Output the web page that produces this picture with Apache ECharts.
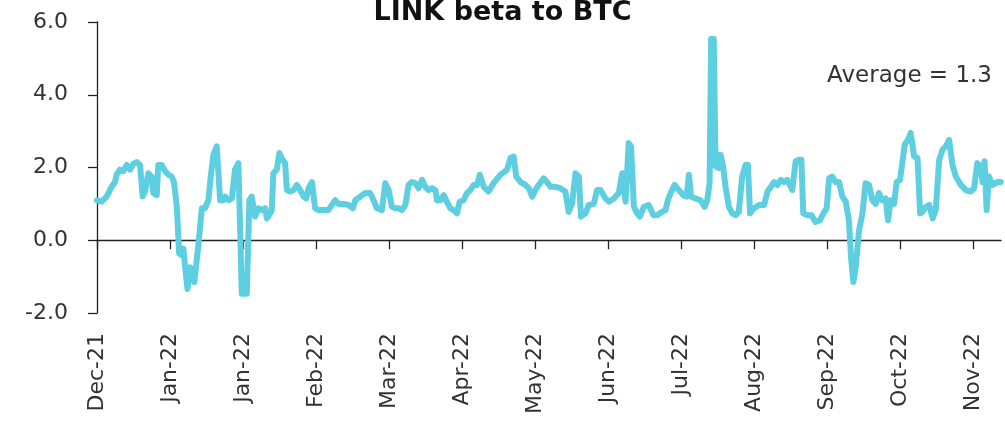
<!DOCTYPE html>
<html>
<head>
<meta charset="utf-8">
<script src="https://cdn.jsdelivr.net/npm/echarts@6/dist/echarts.min.js"></script>
<style>
html,body{margin:0;padding:0;background:#fff;}
#chart{width:1005px;height:431px;}
</style>
</head>
<body>
<div id="chart"></div>
<script>
// Tick labels every 28 days (day index 0 = early Dec 2021)
const tickLabels = ['Dec-21','Jan-22','Jan-22','Feb-22','Mar-22','Apr-22','May-22','Jun-22','Jul-22','Aug-22','Sep-22','Oct-22','Nov-22'];
const tickStep = 28;

// Day index of each reading
const days = [
0,1.8,3.7,5.6,6.9,7.5,8.8,10.1,11.4,12.7,13.9,15.2,16.5,17.5,18.4,19.7,21.0,21.6,22.9,23.5,
24.8,26.1,27.4,28.6,29.5,30.6,31.5,32.5,33.1,33.8,34.7,35.7,36.3,37.3,38.0,38.9,40.2,41.4,42.7,43.6,
44.6,45.9,46.5,47.2,48.5,49.1,50.4,51.7,52.9,54.2,54.9,55.5,56.1,57.4,58.1,58.4,59.3,60.0,60.6,61.9,
63.2,64.5,65.1,66.4,67.0,67.6,68.9,69.9,70.8,72.1,72.8,74.0,75.3,76.6,77.9,79.2,80.2,81.1,82.4,83.6,
84.9,86.8,88.7,90.0,91.3,92.6,94.5,96.4,98.1,99.0,100.9,102.8,104.7,106.0,107.3,109.2,110.5,111.8,113.0,114.3,
115.6,116.9,118.2,119.4,120.7,122.0,123.3,124.6,125.8,127.1,128.4,129.7,130.3,131.6,132.9,134.1,135.4,136.7,138.0,139.0,
140.5,141.8,143.1,144.4,145.7,146.7,148.2,150.1,152.0,154.6,
155.2,157.2,158.5,159.7,160.7,162.3,164.2,165.5,166.8,168.0,169.3,171.2,172.5,173.8,175.7,177.6,179.5,180.8,182.1,183.4,
184.7,185.5,187.2,188.5,190.4,191.7,193.0,194.9,196.2,198.1,200.0,201.3,202.6,203.8,204.7,205.8,207.0,208.1,209.6,211.5,
213.2,214.7,216.6,217.9,218.8,220.1,221.4,223.0,224.7,226.0,226.9,227.7,229.4,231.3,232.9,233.9,234.8,235.4,236.4,237.1,
238.4,239.0,240.0,240.9,242.2,243.5,244.8,246.0,247.3,248.6,249.5,250.3,251.8,253.8,255.7,257.0,258.3,259.5,260.8,262.1,
263.3,264.6,266.5,267.8,269.1,270.0,270.7,272.2,273.8,275.4,277.1,278.4,279.7,280.6,281.8,283.1,284.4,285.7,287.0,288.2,
289.1,289.9,290.8,292.1,293.4,294.6,295.9,297.2,298.5,299.7,301.0,302.3,303.2,304.2,305.5,306.5,307.8,309.6,310.9,311.9,
313.2,314.5,315.5,316.4,317.7,319.0,320.3,321.5,322.8,324.1,325.4,326.6,327.9,329.2,331.1,333.0,334.9,336.2,337.4,338.7,
339.4,340.2,341.0,341.9,343.2,345.1,346.4
];

// LINK beta to BTC readings
const beta = [
1.1,1.06,1.2,1.47,1.6,1.8,1.94,1.9,2.07,1.94,2.1,2.15,2.07,1.2,1.34,1.84,1.75,1.3,1.24,2.07,
2.07,1.9,1.8,1.75,1.6,0.92,-0.37,-0.41,-0.23,-0.74,-1.34,-0.74,-0.83,-1.15,-1.1,-0.1,0.88,0.88,1.1,1.75,
2.35,2.58,2.58,1.1,1.1,1.2,1.1,1.15,1.94,2.12,2.12,-1.47,-1.52,-1.47,-1.47,1.1,1.2,1.2,0.65,0.88,
0.83,0.88,0.6,0.74,0.83,1.84,1.94,2.4,2.26,2.12,1.38,1.34,1.38,1.52,1.38,1.2,1.15,1.43,1.6,0.88,
0.83,0.83,0.83,0.97,1.1,1.0,1.0,0.97,0.88,1.1,1.2,1.3,1.3,1.1,0.88,0.83,1.57,1.38,0.92,0.88,
0.88,0.83,0.97,1.52,1.6,1.57,1.43,1.66,1.47,1.38,1.43,1.38,1.1,1.1,1.24,1.06,0.88,0.83,0.74,1.06,
1.1,1.3,1.38,1.52,1.52,1.8,1.47,1.34,1.57,1.8,
1.75,1.94,2.26,2.3,1.75,1.6,1.52,1.43,1.2,1.38,1.52,1.7,1.6,1.47,1.47,1.43,1.34,0.78,1.0,1.84,
1.75,0.65,0.74,0.97,1.0,1.38,1.38,1.15,1.06,1.15,1.3,1.84,1.06,2.67,2.58,0.92,0.74,0.65,0.92,0.97,
0.69,0.69,0.78,0.83,1.1,1.34,1.52,1.38,1.24,1.2,1.8,1.2,1.15,1.1,0.92,1.1,1.57,5.53,5.53,2.03,
1.98,2.35,2.03,1.47,0.92,0.74,0.69,0.78,1.75,2.07,2.07,0.74,0.88,0.97,0.97,1.34,1.47,1.6,1.52,1.66,
1.6,1.66,1.38,2.17,2.21,2.21,0.74,0.69,0.69,0.5,0.55,0.74,0.88,1.7,1.75,1.6,1.6,1.2,1.06,0.55,
-0.55,-1.15,-0.74,0.28,0.74,1.57,1.52,1.1,1.0,1.3,1.1,1.15,0.55,1.1,1.0,1.6,1.66,2.63,2.76,2.95,
2.3,2.26,0.74,0.78,0.92,0.97,0.6,0.83,2.21,2.49,2.58,2.76,2.07,1.75,1.52,1.38,1.34,1.43,2.12,2.03,
1.6,2.17,0.83,1.75,1.52,1.6,1.6
];

const titleText = 'LINK beta to BTC';
const averageText = 'Average = 1.3';

const tickValues = tickLabels.map((_, i) => i * tickStep);
const seriesData = days.map((d, i) => [d, beta[i]]);

const FONT = '"DejaVu Sans", sans-serif';
const chart = echarts.init(document.getElementById('chart'), null, {renderer: 'canvas'});
chart.setOption({
  animation: false,
  backgroundColor: '#ffffff',
  title: {
    text: titleText,
    left: 'center',
    top: -6,
    textStyle: {fontFamily: FONT, fontSize: 27, fontWeight: 'bold', color: '#111'}
  },
  graphic: [{
    type: 'text',
    right: 13,
    top: 65,
    style: {text: averageText, font: '23px ' + FONT, fill: '#333'}
  }],
  grid: {left: 97, right: 4, top: 22, bottom: 118, containLabel: false},
  xAxis: [{
    type: 'value', min: 0, max: 346.5, interval: tickStep,
    axisLine: {show: true, onZero: true, lineStyle: {color: '#222', width: 1.3}},
    axisTick: {show: true, length: 9, customValues: tickValues, lineStyle: {color: '#222', width: 1.3}},
    axisLabel: {show: false},
    splitLine: {show: false}
  }, {
    type: 'value', min: 0, max: 346.5, interval: tickStep, position: 'bottom',
    axisLine: {show: false, onZero: false},
    axisTick: {show: false},
    splitLine: {show: false},
    axisLabel: {
      show: true, rotate: 90, margin: 20,
      customValues: tickValues,
      fontFamily: FONT, fontSize: 22, color: '#333',
      formatter: v => tickLabels[Math.round(v / tickStep)] || ''
    }
  }],
  yAxis: {
    type: 'value', min: -2, max: 6, interval: 2,
    axisLine: {show: true, lineStyle: {color: '#222', width: 1.3}},
    axisTick: {show: true, length: 9, lineStyle: {color: '#222', width: 1.3}},
    axisLabel: {fontFamily: FONT, fontSize: 22, color: '#333', margin: 29, formatter: v => v.toFixed(1)},
    splitLine: {show: false}
  },
  series: [{
    type: 'line',
    xAxisIndex: 0,
    data: seriesData,
    showSymbol: false,
    lineStyle: {color: '#5ecfe0', width: 6, join: 'round', cap: 'round'},
    z: 1
  }]
});
</script>
</body>
</html>
